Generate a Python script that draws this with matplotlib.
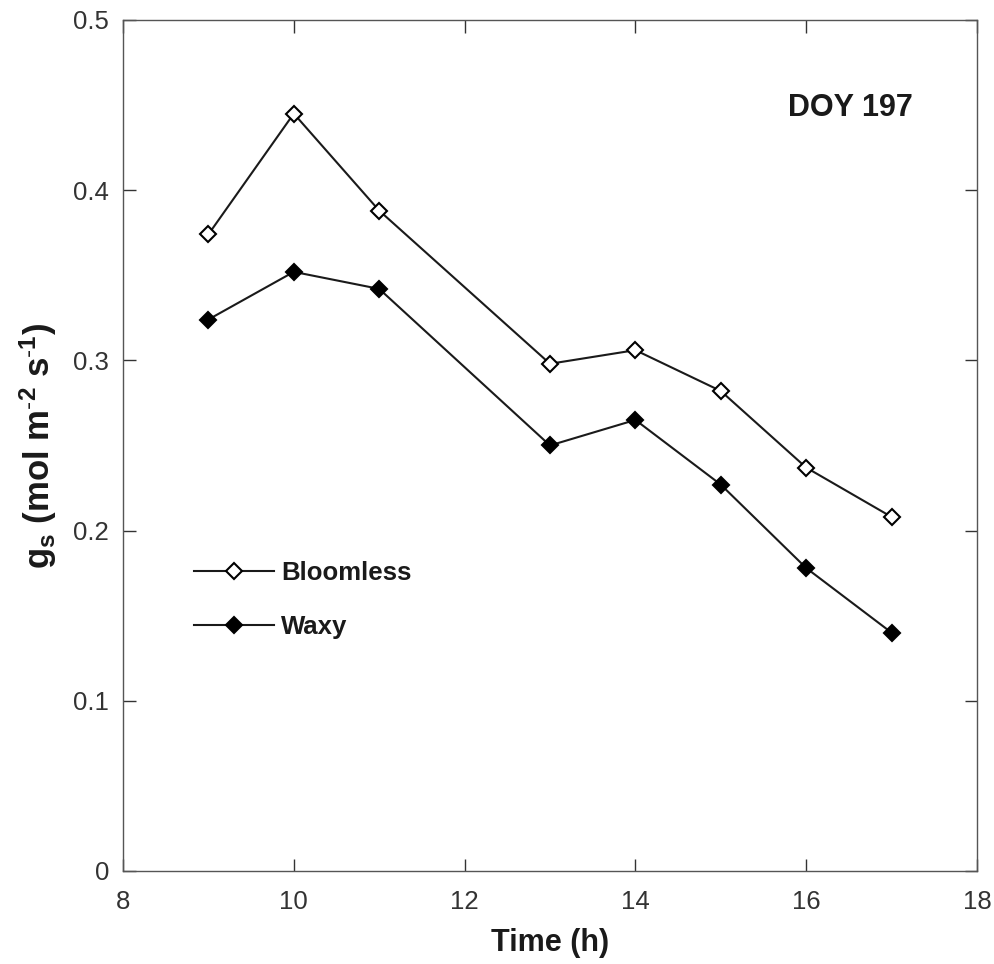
import matplotlib
matplotlib.use("Agg")
import matplotlib.pyplot as plt

plt.rcParams['font.family'] = ['Liberation Sans', 'DejaVu Sans']
plt.rcParams['mathtext.fontset'] = 'custom'
plt.rcParams['mathtext.rm'] = 'Liberation Sans'
plt.rcParams['mathtext.bf'] = 'Liberation Sans:bold'
plt.rcParams['mathtext.it'] = 'Liberation Sans:bold'

hours = [9, 10, 11, 13, 14, 15, 16, 17]
bloomless = [0.374, 0.445, 0.388, 0.298, 0.306, 0.282, 0.237, 0.208]
waxy = [0.324, 0.352, 0.342, 0.250, 0.265, 0.227, 0.178, 0.140]

xticks = [8, 10, 12, 14, 16, 18]
yticks = [0, 0.1, 0.2, 0.3, 0.4, 0.5]
yticklabels = ['0', '0.1', '0.2', '0.3', '0.4', '0.5']

fig = plt.figure(figsize=(9.95, 9.64), dpi=100)
ax = fig.add_axes([0.1236, 0.0965, 0.8583, 0.8828])

line_col = '#1a1a1a'
ax.plot(hours, bloomless, color=line_col, lw=1.5, marker='D', ms=8.5,
        mfc='white', mec='black', mew=1.5, label='Bloomless')
ax.plot(hours, waxy, color=line_col, lw=1.5, marker='D', ms=8.5,
        mfc='black', mec='black', mew=1.5, label='Waxy')

ax.set_xlim(8, 18)
ax.set_ylim(0, 0.5)
ax.set_xticks(xticks)
ax.set_yticks(yticks)
ax.set_yticklabels(yticklabels)
ax.tick_params(direction='in', length=9, width=1, top=True, right=True,
               labelsize=18.5, colors='#333333')
ax.tick_params(axis='x', pad=14)
ax.tick_params(axis='y', pad=10)
for s in ax.spines.values():
    s.set_color('#555555')
    s.set_linewidth(1)

ax.set_xlabel('Time (h)', fontsize=22, fontweight='bold', labelpad=10,
              color='#1a1a1a')
ax.set_ylabel(r'$\mathbf{g_s}$ (mol m$^{\mathbf{\text{-}2}}$ s$^{\mathbf{\text{-}1}}$)',
              fontsize=25, fontweight='bold', labelpad=10, color='#1a1a1a')

ax.text(0.925, 0.897, 'DOY 197', transform=ax.transAxes, ha='right',
        va='center', fontsize=22, fontweight='bold', color='#1a1a1a')

leg = ax.legend(loc='upper left', bbox_to_anchor=(0.068, 0.379), frameon=False,
                numpoints=1, handlelength=3.1, handletextpad=0.3,
                labelspacing=1.15, borderpad=0,
                prop={'size': 18.5, 'weight': 'bold'})
for t in leg.get_texts():
    t.set_color('#1a1a1a')

fig.savefig('out.png', dpi=100)
